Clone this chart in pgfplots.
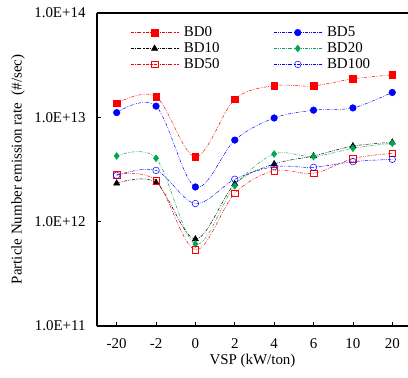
\documentclass[border=0pt]{standalone}
\usepackage{pgfplots}
\pgfplotsset{compat=1.18}
\usepackage{fontspec}
\setmainfont{Liberation Serif}
\definecolor{bdred}{RGB}{255,0,0}
\definecolor{bdblue}{RGB}{0,0,255}
\definecolor{bdgreen}{RGB}{0,166,80}
\begin{document}
\begin{tikzpicture}
\begin{axis}[
  scale only axis,
  width=311bp, height=313bp,
  xmin=-0.5, xmax=7.4,
  ymode=log, ymin=1e11, ymax=1e14,
  axis lines=left,
  axis line style={line width=1.2pt, -},
  xtick={0,1,2,3,4,5,6,7},
  xticklabels={-20,-2,0,2,4,6,10,20},
  ytick={1e11,1e12,1e13,1e14},
  yticklabels={1.0E+11,1.0E+12,1.0E+13,1.0E+14},
  yminorticks=false,
  tick align=inside,
  major tick length=4bp,
  tick style={black, line width=0.6pt},
  /pgf/number format/assume math mode=true,
  ticklabel style={font=\fontsize{15}{18}\selectfont},
  xticklabel style={yshift=-9bp},
  yticklabel style={xshift=-8bp},
  label style={font=\fontsize{15}{18}\selectfont},
  xlabel={VSP (kW/ton)},
  xlabel style={at={(axis description cs:0.5,0)}, yshift=-35bp, anchor=center},
  ylabel={Particle Number emission rate\ \ (\#/sec)},
  ylabel style={at={(axis description cs:-0.254,0.5)}, anchor=center},
  every axis plot/.append style={line width=0.5pt, dash pattern=on 3pt off 1.2pt on 0.6pt off 1.2pt on 0.6pt off 1.2pt, smooth, tension=0.55},
  legend cell align=left,
  legend style={at={(rel axis cs:0.097,0.969)}, anchor=north west, draw=none, fill=none,
    font=\fontsize{15}{18}\selectfont, legend columns=2, row sep=0.5bp,
    /tikz/every odd column/.append style={column sep=3bp},
    /tikz/every even column/.append style={column sep=52bp}},
  legend image code/.code={
    \draw[#1] (0bp,0bp) -- (48bp,0bp);
    \draw[#1, solid, mark repeat=1] plot coordinates {(24bp,0bp)};
  },
]
\addplot[bdred, mark=square*, mark size=3.3bp, mark options={solid}] coordinates {
(0,1.36e13)(1,1.58e13)(2,4.19e12)(3,1.49e13)(4,2.01e13)(5,2.0e13)(6,2.34e13)(7,2.55e13)};
\addlegendentry{BD0}
\addplot[bdblue, mark=*, mark size=3.3bp, mark options={solid}] coordinates {
(0,1.11e13)(1,1.28e13)(2,2.15e12)(3,6.05e12)(4,9.85e12)(5,1.17e13)(6,1.23e13)(7,1.73e13)};
\addlegendentry{BD5}
\addplot[black, mark=triangle*, mark size=3.6bp, mark options={solid}] coordinates {
(0,2.33e12)(1,2.37e12)(2,6.8e11)(3,2.3e12)(4,3.57e12)(5,4.26e12)(6,5.3e12)(7,5.76e12)};
\addlegendentry{BD10}
\addplot[bdgreen, mark=diamond*, mark size=3.4bp, mark options={solid}] coordinates {
(0,4.26e12)(1,4.05e12)(2,6.1e11)(3,2.2e12)(4,4.45e12)(5,4.2e12)(6,5.05e12)(7,5.64e12)};
\addlegendentry{BD20}
\addplot[bdred, mark=square, mark size=3.3bp, mark options={solid, fill=white}] coordinates {
(0,2.82e12)(1,2.47e12)(2,5.36e11)(3,1.87e12)(4,3.08e12)(5,2.9e12)(6,4.02e12)(7,4.52e12)};
\addlegendentry{BD50}
\addplot[bdblue, mark=o, mark size=3.3bp, mark options={solid, fill=white}] coordinates {
(0,2.78e12)(1,3.1e12)(2,1.49e12)(3,2.55e12)(4,3.37e12)(5,3.32e12)(6,3.76e12)(7,3.96e12)};
\addlegendentry{BD100}
\draw[line width=1.2pt] (rel axis cs:0,1) -- (rel axis cs:1,1);
\coordinate (sw) at (rel axis cs:0,0);
\coordinate (ne) at (rel axis cs:1,1);
\end{axis}
\pgfresetboundingbox
\path ([xshift=-97bp,yshift=-52bp]sw) rectangle ([yshift=13bp]ne);
\end{tikzpicture}
\end{document}
